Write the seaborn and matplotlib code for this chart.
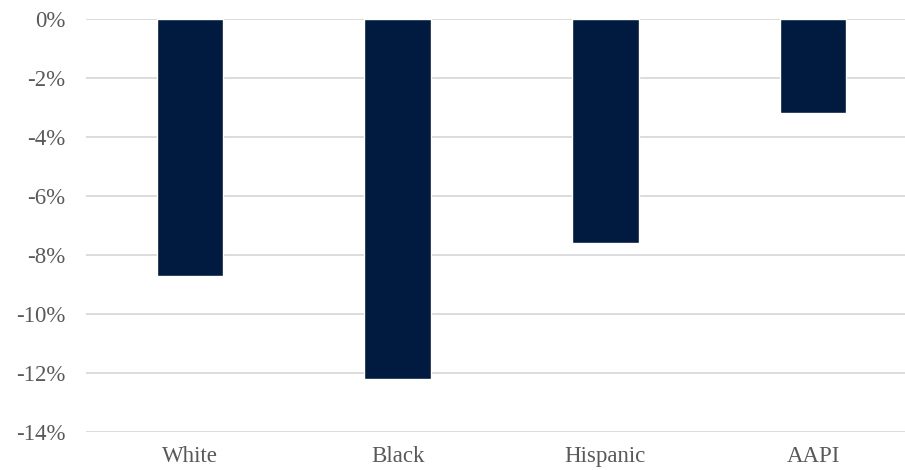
import numpy as np
import pandas as pd
import seaborn as sns
import matplotlib.pyplot as plt
from matplotlib.ticker import PercentFormatter

groups = ['White', 'Black', 'Hispanic', 'AAPI']
change = [-8.7, -12.2, -7.6, -3.2]
yticks = [0, -2, -4, -6, -8, -10, -12, -14]

df = pd.DataFrame({'group': groups, 'change': change})

sns.set_style('white')
plt.rcParams['font.family'] = ['Liberation Serif', 'DejaVu Serif']
plt.rcParams['axes.unicode_minus'] = False

fig = plt.figure(figsize=(9.05, 4.7), dpi=100)
ax = fig.add_axes([86 / 905, 1 - 432 / 470, 831 / 905, 413 / 470])

sns.barplot(data=df, x='group', y='change', color='#001A40', width=0.32,
            saturation=1, ax=ax, zorder=3)

ax.set_ylim(-14, 0)
ax.set_yticks(yticks)
ax.yaxis.set_major_formatter(PercentFormatter(decimals=0))
ax.grid(axis='y', color='#D9D9D9', linewidth=1.3, zorder=0)
ax.set_axisbelow(True)
for s in ax.spines.values():
    s.set_visible(False)
ax.set_xlabel('')
ax.set_ylabel('')
ax.tick_params(axis='both', length=0, labelsize=16.5, labelcolor='#595959')
ax.tick_params(axis='y', pad=15)
ax.tick_params(axis='x', pad=10)

fig.savefig('out.png', dpi=100)
